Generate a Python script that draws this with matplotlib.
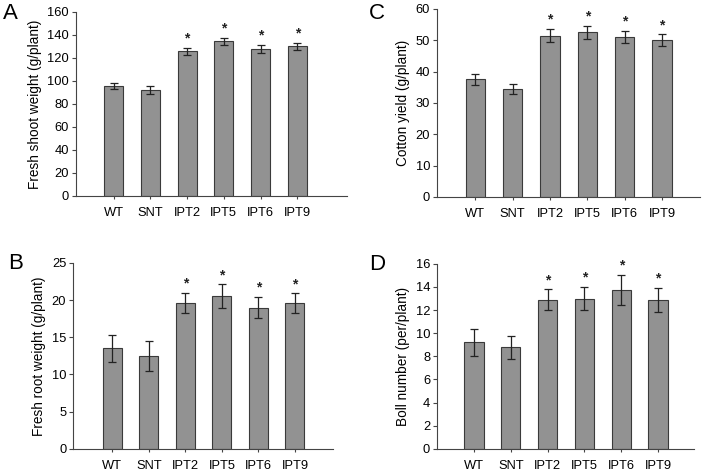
import matplotlib
matplotlib.use('Agg')
import matplotlib.pyplot as plt
import numpy as np

plt.rcParams['font.family'] = ['Liberation Sans', 'DejaVu Sans']

lines = ['WT', 'SNT', 'IPT2', 'IPT5', 'IPT6', 'IPT9']

# A - fresh shoot weight
shoot = [95.5, 92, 125.5, 134.5, 128, 130]
shoot_err = [2.5, 3.5, 3, 3, 3.5, 3]
# B - fresh root weight
root = [13.5, 12.5, 19.6, 20.5, 19.0, 19.6]
root_err = [1.8, 2.0, 1.4, 1.6, 1.4, 1.3]
# C - cotton yield
yield_ = [37.5, 34.5, 51.5, 52.5, 51.0, 50.0]
yield_err = [1.7, 1.6, 2.2, 2.0, 2.0, 1.9]
# D - boll number
boll = [9.2, 8.8, 12.9, 13.0, 13.75, 12.85]
boll_err = [1.2, 1.0, 0.9, 1.0, 1.3, 1.05]
signif = [False, False, True, True, True, True]

fig = plt.figure(figsize=(7.04, 4.72), dpi=100)

panels = [
    ('A', shoot, shoot_err, 'Fresh shoot weight (g/plant)', (0, 160), 20,
     [0.108, 0.585, 0.385, 0.390], (-1.02, 6.35), (0.004, 0.994)),
    ('C', yield_, yield_err, 'Cotton yield (g/plant)', (0, 60), 10,
     [0.621, 0.583, 0.374, 0.398], (-1.02, 6.03), (0.524, 0.994)),
    ('B', root, root_err, 'Fresh root weight (g/plant)', (0, 25), 5,
     [0.104, 0.049, 0.369, 0.394], (-1.07, 6.04), (0.012, 0.464)),
    ('D', boll, boll_err, 'Boll number (per/plant)', (0, 16), 2,
     [0.621, 0.049, 0.365, 0.392], (-1.0, 5.98), (0.524, 0.462)),
]

x = np.arange(len(lines))
for letter, vals, errs, ylab, ylim, step, pos, xlim, lpos in panels:
    ax = fig.add_axes(pos)
    ax.bar(x, vals, width=0.52, color='#929292', edgecolor='#3a3a3a', linewidth=0.8,
           yerr=errs, error_kw=dict(ecolor='#222222', elinewidth=0.9, capsize=3, capthick=0.9))
    for xi, v, e, s in zip(x, vals, errs, signif):
        if s:
            ax.text(xi, v + e + (ylim[1] - ylim[0]) * 0.012, '*', ha='center', va='bottom',
                    fontsize=10, fontweight='bold', color='#222222')
    ax.set_xlim(*xlim)
    ax.set_ylim(*ylim)
    ax.set_yticks(np.arange(ylim[0], ylim[1] + step / 2, step))
    ax.set_xticks(x)
    ax.set_xticklabels(lines, fontsize=9.3)
    ax.tick_params(axis='y', labelsize=9.3, length=3, width=0.8, color='#444444', pad=2)
    ax.tick_params(axis='x', length=2, width=0.8, color='#444444', pad=6)
    ax.set_ylabel(ylab, fontsize=9.8, labelpad=4)
    for sp in ['top', 'right']:
        ax.spines[sp].set_visible(False)
    for sp in ['left', 'bottom']:
        ax.spines[sp].set_color('#444444')
        ax.spines[sp].set_linewidth(0.8)
    fig.text(lpos[0], lpos[1], letter, fontsize=16, ha='left', va='top')

fig.savefig('out.png', dpi=100)
